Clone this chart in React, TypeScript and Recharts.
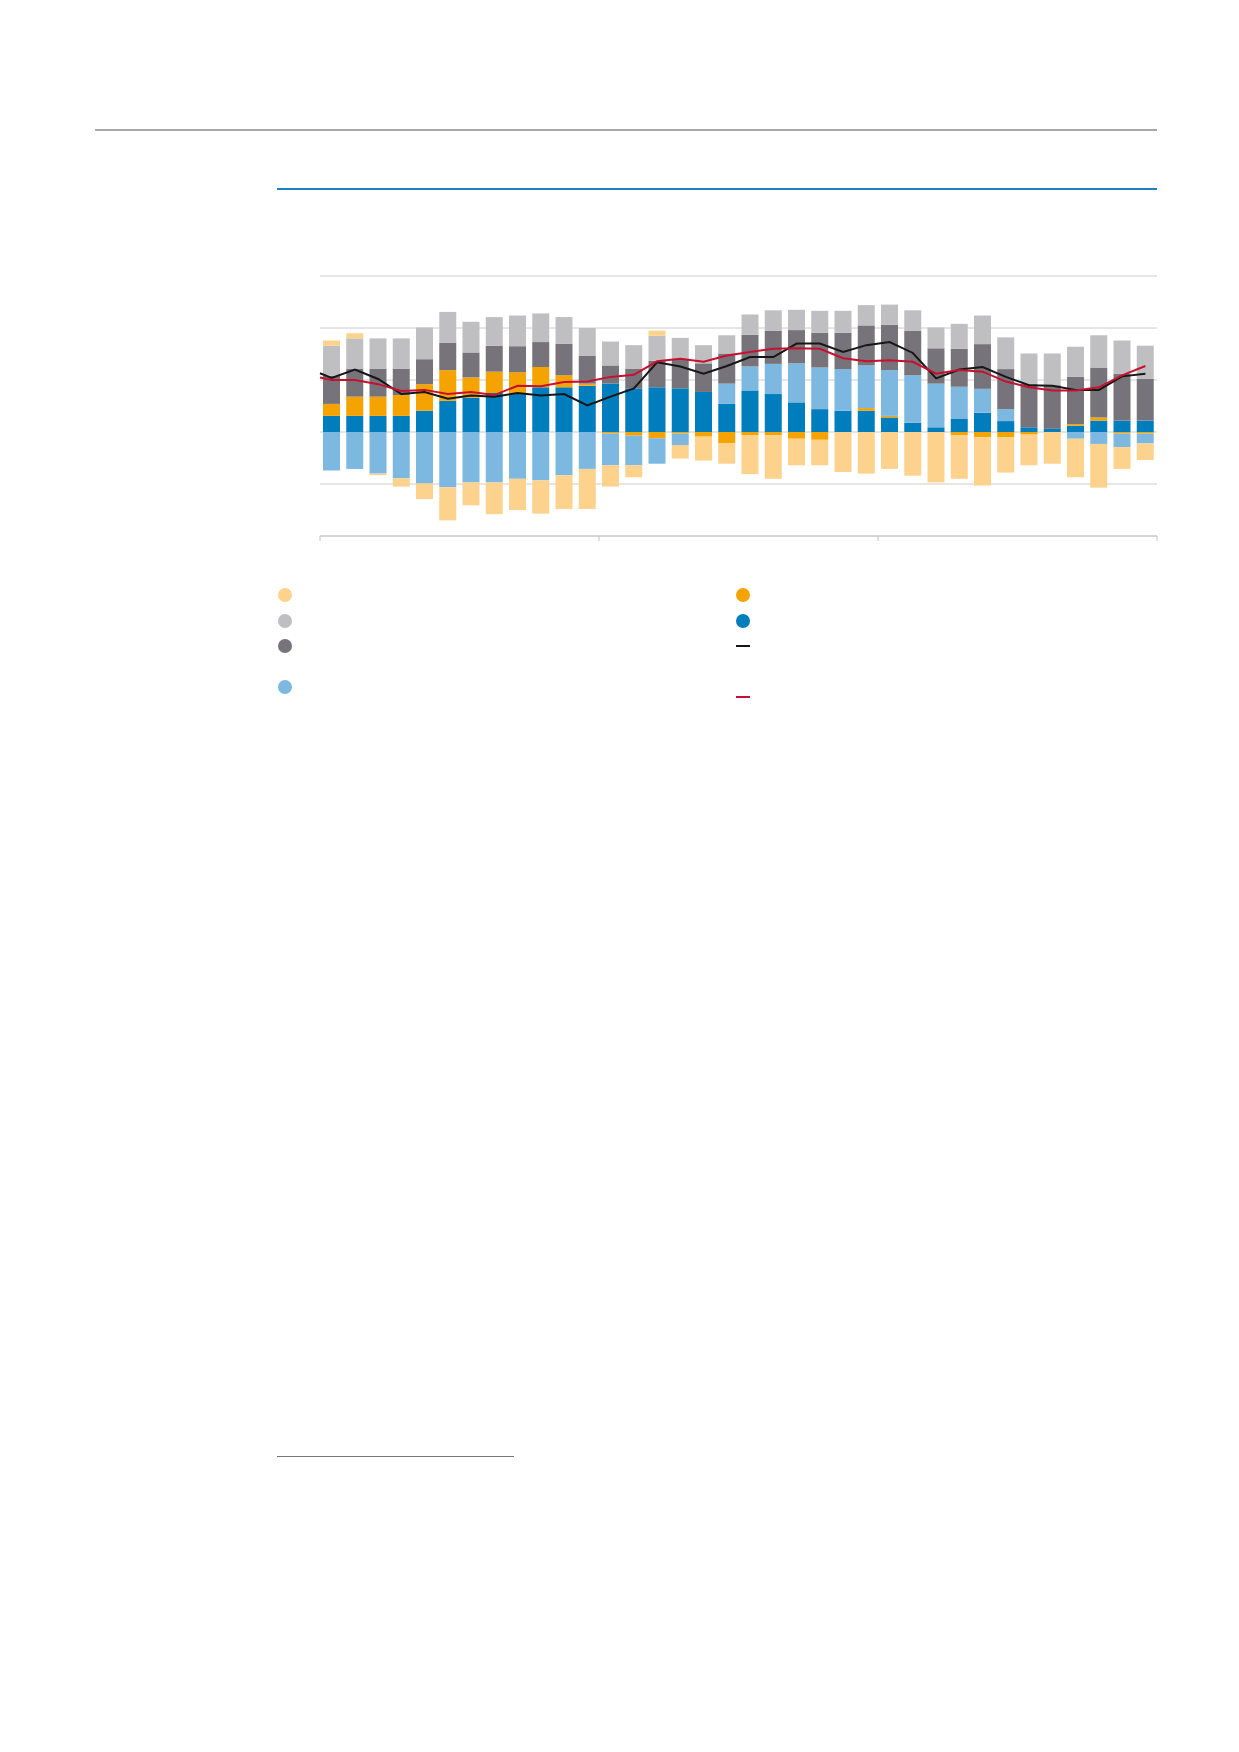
import React from 'react';
import {
  ComposedChart,
  Bar,
  Line,
  XAxis,
  YAxis,
  CartesianGrid,
} from 'recharts';

// 36 monthly bars, three blocks of twelve
const blue = [3.1, 3.1, 3.1, 3.1, 4.1, 6.0, 6.6, 7.5, 7.3, 8.6, 8.6, 8.9, 9.3, 8.4, 8.6, 8.4, 7.7, 5.4, 8.0, 7.3, 5.7, 4.4, 4.1, 4.1, 2.8, 1.8, 0.9, 2.6, 3.7, 2.1, 0.9, 0.6, 1.2, 2.2, 2.2, 2.2];
const orange = [2.3, 3.7, 3.7, 4.0, 5.1, 5.9, 3.9, 4.1, 4.2, 3.9, 2.3, 0.4, -0.3, -0.7, -1.2, -0.3, -0.9, -2.2, -0.6, -0.6, -1.3, -1.5, 0, 0.5, 0.3, 0, 0, -0.6, -1.0, -1.0, -0.5, 0, 0.3, 0.6, -0.3, -0.3];
const lightBlue = [-7.4, -7.1, -8.0, -8.9, -9.9, -10.6, -9.7, -9.7, -9.0, -9.3, -8.3, -7.1, -6.1, -5.7, -4.9, -2.2, 0, 3.9, 4.6, 5.8, 7.5, 8.0, 8.0, 8.2, 8.8, 9.1, 8.4, 6.1, 4.6, 2.3, 0, 0, -1.3, -2.3, -2.6, -1.9];
const darkGray = [5.4, 5.4, 5.4, 5.1, 4.8, 5.3, 4.8, 5.0, 5.0, 4.8, 6.1, 5.4, 3.5, 3.8, 5.1, 5.5, 5.5, 5.8, 6.1, 6.4, 6.4, 6.7, 7.0, 7.7, 8.7, 8.6, 6.8, 7.3, 8.6, 7.7, 8.4, 8.4, 9.1, 9.6, 9.0, 8.0];
const lightGray = [5.8, 5.8, 5.8, 5.8, 6.1, 5.9, 5.9, 5.5, 5.9, 5.5, 5.1, 5.3, 4.6, 4.5, 4.8, 4.2, 3.5, 3.5, 3.9, 3.9, 3.9, 4.2, 4.2, 3.9, 3.9, 3.9, 4.0, 4.8, 5.5, 6.1, 5.8, 6.1, 5.8, 6.2, 6.4, 6.4];
const lightOrange = [1.0, 1.0, -0.3, -1.6, -3.0, -6.4, -4.4, -6.1, -6.0, -6.4, -6.5, -7.7, -4.1, -2.3, 1.0, -2.6, -4.6, -3.9, -7.5, -8.4, -5.1, -4.9, -7.7, -8.0, -7.1, -8.4, -9.7, -8.4, -9.3, -6.8, -5.9, -6.1, -7.4, -8.4, -4.2, -3.2];

// lines: first value sits on the left edge of the plot
const blackLine = [11.3, 10.4, 12.0, 10.2, 7.3, 7.7, 6.4, 7.0, 6.8, 7.5, 7.0, 7.3, 5.1, 6.8, 8.4, 13.4, 12.6, 11.2, 12.7, 14.4, 14.4, 17.0, 17.0, 15.4, 16.7, 17.3, 15.2, 10.3, 12.0, 12.5, 10.6, 9.0, 8.9, 8.1, 8.1, 10.7, 11.2];
const redLine = [10.5, 10.0, 10.0, 9.2, 7.9, 8.1, 7.3, 7.7, 7.1, 8.9, 8.8, 9.6, 9.7, 10.6, 11.0, 13.6, 14.1, 13.5, 14.7, 15.4, 16.0, 16.1, 16.0, 14.2, 13.6, 13.8, 13.5, 11.2, 11.9, 11.6, 9.7, 8.6, 8.0, 8.0, 8.6, 10.9, 12.7];

const xTicks = [0, 12, 24, 36];
const yTicks = [-20, -10, 0, 10, 20, 30];

const C = {
  blue: '#007dbc',
  orange: '#f5a300',
  lightBlue: '#7db8e0',
  darkGray: '#76747a',
  lightGray: '#bfbfc1',
  lightOrange: '#fdd28c',
  black: '#161616',
  red: '#c8102e',
};

const barData = blue.map((_, i) => ({
  x: i + 0.5,
  blue: blue[i],
  orange: orange[i],
  lightBlue: lightBlue[i],
  darkGray: darkGray[i],
  lightGray: lightGray[i],
  lightOrange: lightOrange[i],
}));

const lineData = blackLine.map((_, i) => ({
  x: i === 0 ? 0 : i - 0.5,
  black: blackLine[i],
  red: redLine[i],
}));

const Dot = ({ x, y, color }: { x: number; y: number; color: string }) => (
  <div
    style={{
      position: 'absolute',
      left: x - 7,
      top: y - 7,
      width: 14,
      height: 14,
      borderRadius: '50%',
      background: color,
    }}
  />
);

const Dash = ({ x, y, color }: { x: number; y: number; color: string }) => (
  <div style={{ position: 'absolute', left: x, top: y - 1, width: 14, height: 2, background: color }} />
);

export default function App() {
  return (
    <div style={{ position: 'absolute', left: 0, top: 0, width: 1239, height: 1752, background: '#fff' }}>
      <div style={{ position: 'absolute', left: 95, top: 129, width: 1062, height: 1.5, background: '#a8a8a8' }} />
      <div style={{ position: 'absolute', left: 277, top: 188, width: 880, height: 1.5, background: '#1f7fc0' }} />

      <div style={{ position: 'absolute', left: 0, top: 0 }}>
        <ComposedChart
          width={1239}
          height={600}
          data={barData}
          stackOffset="sign"
          margin={{ top: 276, right: 82, bottom: 34, left: 320 }}
        >
          <CartesianGrid vertical={false} stroke="#cccccc" xAxisId="bars" />
          <XAxis
            xAxisId="bars"
            type="number"
            dataKey="x"
            domain={[0, 36]}
            ticks={xTicks}
            tick={() => <g />}
            tickSize={5}
            height={30}
            axisLine={{ stroke: '#c4c4c4' }}
            tickLine={{ stroke: '#c4c4c4' }}
          />
          <XAxis xAxisId="lines" type="number" dataKey="x" domain={[0, 36]} hide />
          <YAxis hide domain={[-20, 30]} ticks={yTicks} />
          <Bar xAxisId="bars" dataKey="blue" stackId="a" fill={C.blue} barSize={17} isAnimationActive={false} />
          <Bar xAxisId="bars" dataKey="orange" stackId="a" fill={C.orange} barSize={17} isAnimationActive={false} />
          <Bar xAxisId="bars" dataKey="lightBlue" stackId="a" fill={C.lightBlue} barSize={17} isAnimationActive={false} />
          <Bar xAxisId="bars" dataKey="darkGray" stackId="a" fill={C.darkGray} barSize={17} isAnimationActive={false} />
          <Bar xAxisId="bars" dataKey="lightGray" stackId="a" fill={C.lightGray} barSize={17} isAnimationActive={false} />
          <Bar xAxisId="bars" dataKey="lightOrange" stackId="a" fill={C.lightOrange} barSize={17} isAnimationActive={false} />
          <Line xAxisId="lines" data={lineData} dataKey="black" type="linear" stroke={C.black} strokeWidth={2} dot={false} isAnimationActive={false} />
          <Line xAxisId="lines" data={lineData} dataKey="red" type="linear" stroke={C.red} strokeWidth={2} dot={false} isAnimationActive={false} />
        </ComposedChart>
      </div>

      <Dot x={285} y={595} color={C.lightOrange} />
      <Dot x={285} y={621} color={C.lightGray} />
      <Dot x={285} y={646} color={C.darkGray} />
      <Dot x={285} y={687} color={C.lightBlue} />
      <Dot x={743} y={595} color={C.orange} />
      <Dot x={743} y={621} color={C.blue} />
      <Dash x={736} y={646} color={C.black} />
      <Dash x={736} y={697} color={C.red} />

      <div style={{ position: 'absolute', left: 277, top: 1455.5, width: 237, height: 1.2, background: '#777777' }} />
    </div>
  );
}
